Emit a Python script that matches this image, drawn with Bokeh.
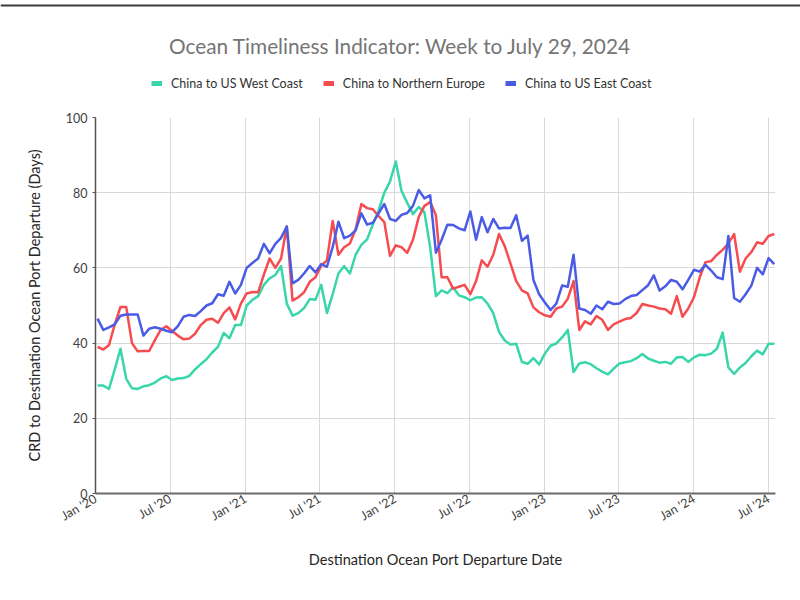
import pandas as pd
from math import pi
from bokeh.plotting import figure
from bokeh.models import (FixedTicker, DatetimeTickFormatter, Legend, LegendItem,
                          Range1d, ColumnDataSource, Label, Span)
from bokeh.layouts import column
from bokeh.embed import file_html
from bokeh.resources import INLINE

# ---------------- data ----------------
first_week = "2020-01-06"
step = "14D"

west_coast = [
    28.7, 28.7, 27.8, 33.0, 38.5, 30.5, 28.0, 27.8, 28.5, 28.8,
    29.5, 30.6, 31.2, 30.2, 30.6, 30.7, 31.3, 33.0, 34.4, 35.7,
    37.5, 39.0, 42.7, 41.3, 44.8, 44.8, 50.0, 51.5, 52.5, 55.5,
    57.2, 58.1, 60.5, 50.5, 47.3, 48.0, 49.3, 51.7, 51.5, 55.5,
    48.0, 53.0, 58.5, 60.5, 58.5, 63.5, 66.1, 67.6, 71.5, 75.2,
    80.0, 83.0, 88.3, 80.5, 77.3, 74.3, 76.2, 74.8, 65.5, 52.5,
    54.0, 53.3, 54.8, 52.7, 52.2, 51.4, 52.1, 52.2, 50.5, 48.0,
    43.0, 40.7, 39.6, 39.8, 35.0, 34.5, 36.0, 34.3, 37.2, 39.3,
    39.9, 41.5, 43.5, 32.3, 34.6, 34.9, 34.4, 33.3, 32.4, 31.7,
    33.2, 34.6, 34.9, 35.2, 36.0, 37.1, 35.9, 35.3, 34.8, 35.0,
    34.5, 36.2, 36.3, 35.0, 36.2, 36.9, 36.8, 37.2, 38.5, 42.8,
    33.5, 31.8, 33.5, 34.7, 36.5, 38.0, 37.0, 39.8, 39.8,
]

northern_europe = [
    39.0, 38.3, 39.5, 45.0, 49.6, 49.6, 40.0, 37.8, 37.9, 37.9,
    40.8, 43.5, 44.5, 43.2, 42.0, 41.0, 41.2, 42.5, 44.8, 46.2,
    46.5, 45.4, 48.0, 49.5, 46.3, 50.5, 53.2, 53.6, 53.5, 58.2,
    62.5, 60.0, 62.5, 71.0, 51.3, 52.2, 53.5, 56.3, 57.5, 60.6,
    62.0, 72.5, 63.5, 65.5, 66.5, 70.3, 77.0, 75.9, 75.6, 73.8,
    72.2, 63.2, 66.0, 65.5, 64.0, 67.5, 73.5, 76.5, 77.5, 74.0,
    57.5, 57.5, 54.5, 55.0, 55.5, 53.0, 56.5, 62.0, 60.3, 63.5,
    69.0, 65.8, 61.2, 56.5, 54.0, 53.2, 49.5, 48.2, 47.4, 47.0,
    49.2, 49.7, 51.8, 56.5, 43.5, 45.8, 45.0, 47.2, 46.2, 43.5,
    45.0, 45.7, 46.4, 46.7, 48.0, 50.4, 50.0, 49.7, 49.2, 49.0,
    47.8, 52.5, 47.0, 49.2, 52.2, 57.5, 61.5, 61.8, 63.5, 64.8,
    66.5, 69.0, 59.0, 62.5, 64.2, 66.8, 66.4, 68.5, 69.0,
]

east_coast = [
    46.5, 43.5, 44.2, 45.0, 47.3, 47.6, 47.6, 47.6, 42.0, 43.8,
    44.2, 43.8, 43.3, 42.9, 44.5, 47.0, 47.5, 47.2, 48.5, 50.0,
    50.6, 53.0, 52.6, 56.3, 53.2, 55.5, 60.0, 61.3, 62.5, 66.4,
    63.9, 66.4, 68.0, 71.0, 55.9, 56.8, 58.5, 60.5, 58.8, 61.0,
    60.3, 65.5, 72.3, 67.9, 68.6, 70.0, 74.5, 71.5, 72.0, 74.5,
    77.0, 73.0, 72.5, 74.1, 74.6, 76.5, 80.7, 78.5, 79.3, 64.0,
    67.5, 71.5, 71.4, 70.5, 70.0, 75.0, 67.5, 73.5, 69.5, 73.0,
    70.5, 70.7, 70.6, 74.0, 67.2, 68.6, 56.8, 53.0, 50.8, 48.8,
    50.5, 55.3, 55.0, 63.5, 49.2, 48.8, 47.8, 50.0, 49.0, 51.0,
    50.4, 50.5, 51.7, 52.5, 52.8, 54.1, 55.4, 58.0, 54.0, 55.1,
    56.8, 56.3, 54.3, 56.8, 59.5, 59.0, 60.8, 59.3, 57.5, 57.0,
    68.5, 52.0, 51.0, 53.0, 55.3, 60.0, 58.3, 62.6, 61.0,
]

series_names = ["China to US West Coast", "China to Northern Europe", "China to US East Coast"]
series_colors = ["#38d6aa", "#f74c4f", "#4a5be6"]

tick_dates = ["2020-01-01", "2020-07-01", "2021-01-01", "2021-07-01", "2022-01-01",
              "2022-07-01", "2023-01-01", "2023-07-01", "2024-01-01", "2024-07-01"]
y_ticks = [0, 20, 40, 60, 80, 100]

title_text = "Ocean Timeliness Indicator: Week to July 29, 2024"
x_label = "Destination Ocean Port Departure Date"
y_label = "CRD to Destination Ocean Port Departure (Days)"

FONT = "Lato"
RULE = "#3c3c3c"

# ---------------- header: title + legend ----------------
H_HEAD = 100
head = figure(width=800, height=H_HEAD, x_range=Range1d(0, 1), y_range=Range1d(0, 1),
              output_backend="svg", toolbar_location=None, title_location=None,
              x_axis_location=None, y_axis_location=None,
              min_border_left=0, min_border_right=0, min_border_top=0, min_border_bottom=0)
head.frame_align = False
head.outline_line_color = None
head.xgrid.visible = False
head.ygrid.visible = False

head.add_layout(Span(location=H_HEAD - 5, location_units="screen", dimension="width",
                     line_color=RULE, line_width=2))
head.add_layout(Label(x=400, y=H_HEAD - 45, x_units="screen", y_units="screen",
                      text=title_text, text_align="center", text_baseline="middle",
                      text_font=FONT, text_font_size="20.8px", text_color="#757575"))

items = []
for name, col in zip(series_names, series_colors):
    r = head.line(x=[0, 1], y=[float("nan"), float("nan")], line_color=col, line_width=5)
    items.append(LegendItem(label=name, renderers=[r]))
legend = Legend(items=items, orientation="horizontal", location=(151, H_HEAD - 92),
                glyph_width=11, glyph_height=18, label_standoff=9, spacing=20,
                padding=0, margin=0, border_line_color=None,
                background_fill_alpha=0,
                label_text_font=FONT, label_text_font_size="12.5px",
                label_text_color="#333333")
head.add_layout(legend, "center")

# ---------------- main chart ----------------
dates = pd.date_range(first_week, periods=len(west_coast), freq=step)
src = ColumnDataSource(dict(date=dates, west=west_coast, europe=northern_europe, east=east_coast))

p = figure(width=800, height=496, x_axis_type="datetime",
           x_range=Range1d(pd.Timestamp("2020-01-01"), pd.Timestamp("2024-07-18")),
           y_range=Range1d(0, 100),
           output_backend="svg", toolbar_location=None, title_location=None,
           min_border_left=95, min_border_right=25, min_border_bottom=103, min_border_top=17)
p.frame_align = False
p.outline_line_color = None

for c, col in zip(["west", "europe", "east"], series_colors):
    p.line("date", c, source=src, line_color=col, line_width=2.5, line_join="round")

tick_ms = [pd.Timestamp(d).value / 1e6 for d in tick_dates]
p.xaxis.ticker = FixedTicker(ticks=tick_ms)
fmt = "%b '%y"
p.xaxis.formatter = DatetimeTickFormatter(days=fmt, months=fmt, years=fmt, hours=fmt)
p.xaxis.major_label_orientation = pi / 6
p.yaxis.ticker = FixedTicker(ticks=y_ticks)

for ax in (p.xaxis, p.yaxis):
    ax.major_tick_out = 0
    ax.major_tick_in = 0
    ax.minor_tick_out = 0
    ax.minor_tick_in = 0
    ax.major_label_text_font = FONT
    ax.major_label_text_font_size = "12.5px"
    ax.major_label_text_color = "#404040"
    ax.axis_label_text_font = FONT
    ax.axis_label_text_font_size = "14.5px"
    ax.axis_label_text_font_style = "normal"
    ax.axis_label_text_color = "#262626"

p.yaxis.major_tick_out = 3
p.yaxis.major_tick_line_color = "#555555"
p.xaxis.axis_label = x_label
p.yaxis.axis_label = y_label
p.xaxis.axis_line_color = "#6b6b6b"
p.xaxis.axis_line_width = 2
p.yaxis.axis_line_color = "#555555"
p.yaxis.axis_line_width = 1.5
p.yaxis.major_label_standoff = 5
p.xaxis.major_label_standoff = 4
p.yaxis.axis_label_standoff = 20
p.xaxis.axis_label_standoff = 18

p.xgrid.grid_line_color = "#d9d9d9"
p.ygrid.grid_line_color = "#d9d9d9"

# ---------------- footer rule (a thin dark strip) ----------------
foot = figure(width=800, height=2, x_range=Range1d(0, 1), y_range=Range1d(0, 1),
              output_backend="svg", toolbar_location=None, title_location=None,
              x_axis_location=None, y_axis_location=None,
              min_border_left=0, min_border_right=0, min_border_top=0, min_border_bottom=0)
foot.frame_align = False
foot.outline_line_color = None
foot.xgrid.visible = False
foot.ygrid.visible = False
foot.background_fill_color = RULE
foot.border_fill_color = RULE

layout = column(head, p, foot, spacing=0)
open("out.html", "w").write(file_html(layout, INLINE))
